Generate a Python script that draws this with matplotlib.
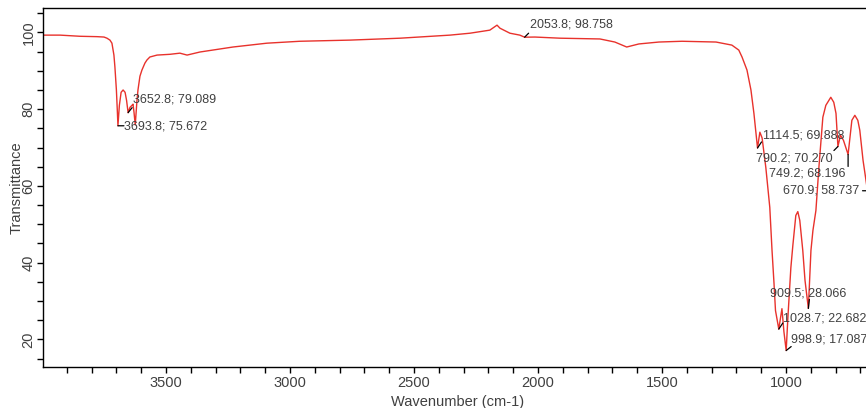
#!/usr/bin/env python3
"""FTIR transmittance spectrum with labelled peaks."""

import matplotlib
matplotlib.use("Agg")
import matplotlib.pyplot as plt
from matplotlib.ticker import MultipleLocator

# spectrum (wavenumber cm-1, % transmittance)
wavenumber = [
    3996, 3927, 3847, 3778, 3750, 3738, 3726, 3718, 3710, 3706, 3700, 3696,
    3693.8, 3688, 3681, 3673, 3665, 3659, 3652.8, 3645, 3637, 3633, 3629,
    3624, 3617, 3613, 3605, 3597, 3585, 3577, 3565, 3536, 3484, 3444, 3415,
    3363, 3230, 3093, 2960, 2758, 2556, 2355, 2274, 2194, 2165, 2153, 2113,
    2073, 2053.8, 2012, 1911, 1750, 1690, 1642, 1593, 1512, 1419, 1282, 1218,
    1190, 1177, 1157, 1141, 1129, 1114.5, 1105, 1096, 1081, 1065, 1056, 1048,
    1042, 1028.7, 1016, 1008, 998.9, 992, 980, 972, 960, 952, 944, 932, 923,
    909.5, 899, 891, 879, 867, 851, 839, 819, 807, 798, 790.2, 780, 768,
    749.2, 734, 722, 710, 702, 689, 670.9, 660,
]
transmittance = [
    99.3, 99.3, 99.0, 98.9, 98.8, 98.5, 98.0, 97.2, 94.1, 91.0, 85.0, 79.2,
    75.672, 81.0, 84.4, 85.0, 84.4, 82.3, 79.089, 80.5, 81.0, 81.3, 79.2,
    75.9, 82.3, 85.0, 88.6, 90.2, 92.0, 92.8, 93.6, 94.1, 94.3, 94.6, 94.1,
    94.9, 96.2, 97.2, 97.7, 98.0, 98.5, 99.3, 99.8, 100.6, 101.9, 101.1, 99.8,
    99.3, 98.758, 98.8, 98.5, 98.3, 97.5, 96.2, 97.0, 97.5, 97.7, 97.5, 96.7,
    95.4, 93.6, 90.2, 85.0, 78.9, 69.888, 74.0, 72.5, 64.8, 54.4, 43.2, 34.6,
    27.5, 22.682, 28.0, 22.0, 17.087, 25.7, 38.7, 44.5, 52.3, 53.3, 51.0, 43.2,
    35.4, 28.066, 43.2, 48.4, 53.6, 64.8, 77.9, 81.0, 83.1, 81.8, 78.9,
    70.270, 73.2, 71.9, 68.196, 77.1, 78.4, 77.1, 74.5, 66.7, 58.737, 58.5,
]

# labelled peaks
peak_wn = [3693.8, 3652.8, 2053.8, 1114.5, 790.2, 749.2, 670.9, 909.5, 1028.7, 998.9]
peak_t = [75.672, 79.089, 98.758, 69.888, 70.270, 68.196, 58.737, 28.066, 22.682, 17.087]
# text placement (pixels from the point) and the little black tick mark
label_offsets = [(6, -1), (5, 13), (5, 13), (5, 12), (-5, -12),
                 (-3, -19), (-8, 0), (0, 15), (4, 11), (5, 11)]
label_ha = ["left", "left", "left", "left", "right",
            "right", "right", "center", "left", "left"]
mark_offsets = [(6, 0), (4, 5), (4, 4), (4, 6), (-4, -4),
                (0, -12), (-5, 0), (1, 9), (4, 6), (5, 4)]

TEXT = "#404040"

plt.rcParams["font.family"] = ["Liberation Sans", "DejaVu Sans"]

fig = plt.figure(figsize=(8.66, 4.08), dpi=100)
ax = fig.add_axes([43 / 866, 41 / 408, 823 / 866, 359.5 / 408])

ax.plot(wavenumber, transmittance, color="#e8322c", lw=1.0)

for wn, t, off, ha, moff in zip(peak_wn, peak_t, label_offsets, label_ha, mark_offsets):
    ax.annotate("", xy=(wn, t), xytext=moff, textcoords="offset pixels",
                arrowprops=dict(arrowstyle="-", color="black", lw=0.9,
                                shrinkA=0, shrinkB=0),
                annotation_clip=False)
    ax.annotate(f"{wn}; {t:.3f}", xy=(wn, t), xytext=off, textcoords="offset pixels",
                ha=ha, va="center", fontsize=9, color=TEXT, annotation_clip=False)

ax.set_xlim(3996, 677)
ax.set_ylim(12.8, 106.5)

ax.xaxis.set_major_locator(MultipleLocator(500))
ax.xaxis.set_minor_locator(MultipleLocator(100))
ax.yaxis.set_major_locator(MultipleLocator(20))
ax.yaxis.set_minor_locator(MultipleLocator(5))
# tick lengths are in points: ~6 px at 100 dpi
ax.tick_params(which="both", direction="out", length=4.3, width=1, colors="black",
               labelcolor=TEXT, labelsize=10.5)
ax.tick_params(axis="x", which="both", pad=2.5)
ax.tick_params(axis="y", which="both", pad=1)
for lbl in ax.get_yticklabels():
    lbl.set_rotation(90)
    lbl.set_va("center")

ax.spines["right"].set_visible(False)
for side in ("left", "bottom", "top"):
    ax.spines[side].set_linewidth(1.0)

ax.set_xlabel("Wavenumber (cm-1)", fontsize=10.5, color=TEXT)
ax.set_ylabel("Transmittance", fontsize=10.5, color=TEXT)
ax.xaxis.set_label_coords(0.504, -0.077)
ax.yaxis.set_label_coords(-0.024, 0.5)

fig.savefig("out.png", dpi=100)
